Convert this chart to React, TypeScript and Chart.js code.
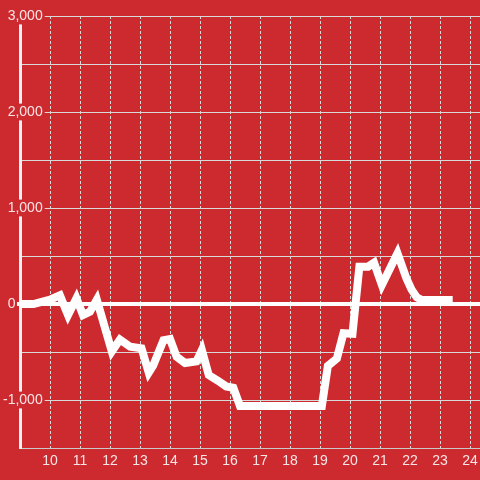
import React, { useEffect, useRef } from 'react';
import { Chart, registerables } from 'chart.js';

Chart.register(...registerables);

// Hour of day (x) and value (y)
const hours = [9.0, 9.45, 10.0, 10.33, 10.6, 10.88, 11.1, 11.33, 11.56, 12.06, 12.33, 12.67, 13.05, 13.29, 13.44, 13.78, 14.0, 14.22, 14.5, 14.88, 15.06, 15.29, 15.6, 15.87, 16.11, 16.33, 19.06, 19.26, 19.56, 19.78, 20.08, 20.31, 20.6, 20.8, 21.06, 21.58, 21.88, 22.05, 22.22, 22.39, 23.42];
const values = [0, 0, 45, 90, -115, 60, -115, -80, 45, -495, -370, -445, -462, -715, -640, -378, -365, -550, -615, -598, -479, -740, -800, -858, -872, -1062, -1062, -645, -568, -305, -310, 389, 389, 431, 198, 528, 265, 150, 70, 42, 42];

const xMin = 9;
const xMax = 24.33;
const yMin = -1500;
const yMax = 3000;
const yStep = 500;
const yLabelEvery = 1000;

const BG = '#cc2a2f';
const TEXT = 'rgba(255,255,255,0.88)';
const GRID = '#d9d9d9';
const FONT = 'Liberation Sans, Arial, sans-serif';

export default function App() {
  const ref = useRef<HTMLCanvasElement | null>(null);

  useEffect(() => {
    if (!ref.current) return;
    const points = hours.map((h, i) => ({ x: h, y: values[i] }));
    const chart = new Chart(ref.current, {
      type: 'line',
      data: {
        datasets: [
          {
            data: points,
            borderColor: '#ffffff',
            borderWidth: 8,
            pointRadius: 0,
            tension: 0,
            fill: false,
          },
        ],
      },
      options: {
        animation: false,
        responsive: false,
        devicePixelRatio: 1,
        layout: { padding: { top: 16, left: 0, right: 0, bottom: 0 } },
        plugins: { legend: { display: false }, tooltip: { enabled: false } },
        scales: {
          x: {
            type: 'linear',
            min: xMin,
            max: xMax,
            afterFit: (s: any) => {
              s.height = 32;
            },
            ticks: {
              stepSize: 1,
              includeBounds: false,
              padding: 0,
              color: TEXT,
              font: { family: FONT, size: 14 },
              maxRotation: 0,
              autoSkip: false,
              callback: (v: any) => (Number(v) === xMin ? '' : String(v)),
            },
            grid: {
              color: GRID,
              lineWidth: 1,
              drawTicks: true,
              tickLength: 5,
              tickColor: 'rgba(0,0,0,0)',
            },
            border: { display: true, color: '#c8c8c8', width: 1, dash: [3, 2] },
          },
          y: {
            type: 'linear',
            min: yMin,
            max: yMax,
            afterFit: (s: any) => {
              s.width = 20;
            },
            ticks: {
              stepSize: yStep,
              mirror: true,
              crossAlign: 'far',
              padding: -17,
              color: TEXT,
              font: { family: FONT, size: 14 },
              callback: (v: any) => {
                const n = Number(v);
                if (n === 0) return '0' + '\u00A0'.repeat(7);
                return n % yLabelEvery === 0 ? n.toLocaleString('en-US') : '';
              },
              showLabelBackdrop: (ctx: any) =>
                !!ctx.tick && ctx.tick.value !== 0 && ctx.tick.value % yLabelEvery === 0,
              backdropColor: BG,
              backdropPadding: { top: 0, bottom: 0, left: 2, right: 2 },
            },
            grid: {
              color: (ctx: any) => (ctx.tick && ctx.tick.value === 0 ? '#ffffff' : GRID),
              lineWidth: (ctx: any) => (ctx.tick && ctx.tick.value === 0 ? 4 : 1),
              drawTicks: true,
              tickLength: 3,
              tickColor: (ctx: any) => (ctx.tick && ctx.tick.value === 0 ? '#ffffff' : 'rgba(0,0,0,0)'),
              tickWidth: (ctx: any) => (ctx.tick && ctx.tick.value === 0 ? 4 : 1),
            },
            border: { display: true, color: '#f2f2f2', width: 3 },
          },
        },
      },
    });
    return () => chart.destroy();
  }, []);

  return (
    <div style={{ position: 'fixed', left: 0, top: 0, width: 480, height: 480, background: BG }}>
      <canvas ref={ref} width={480} height={480} style={{ display: 'block', background: BG }} />
    </div>
  );
}
